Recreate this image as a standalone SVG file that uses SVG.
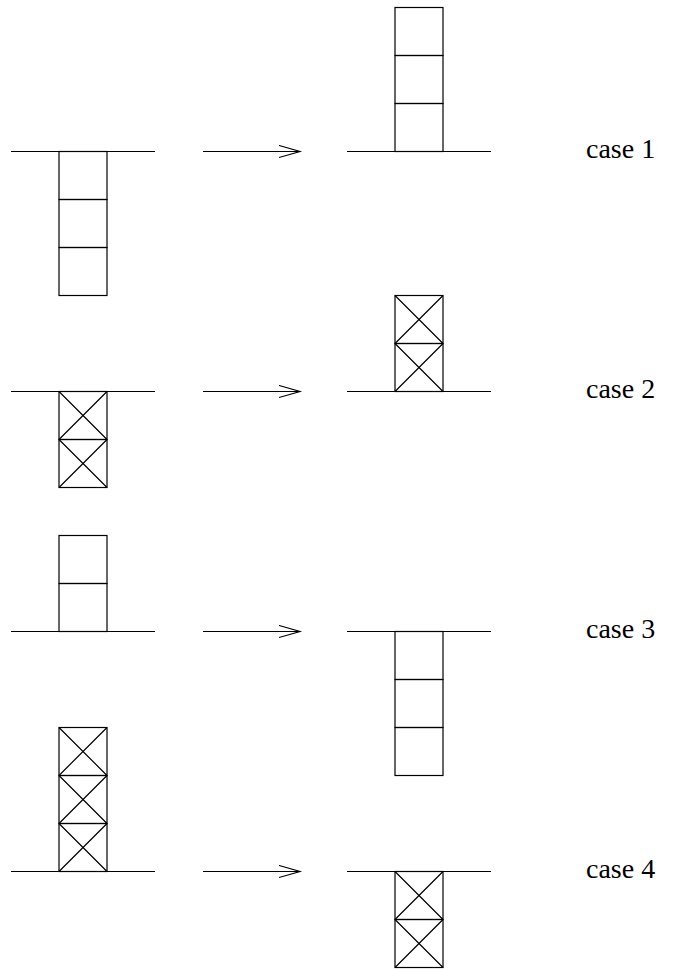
<svg xmlns="http://www.w3.org/2000/svg" width="674" height="969" viewBox="0 0 674 969">
<style>
.l{stroke:#000;stroke-width:1.2;fill:none}
.c{stroke:#000;stroke-width:1.2;fill:none}
.t{font-family:"Liberation Serif",serif;font-size:28px;fill:#000}
</style>
<defs>
<marker id="ah" markerWidth="24" markerHeight="14" refX="21" refY="7" orient="auto" markerUnits="userSpaceOnUse">
<path d="M0,1 L21,7 L0,13" fill="none" stroke="#000" stroke-width="1.2"/>
</marker>
<g id="cell"><rect x="0" y="0" width="48" height="48" class="c"/></g>
<g id="xcell"><rect x="0" y="0" width="48" height="48" class="c"/><path d="M0,0 L48,48 M48,0 L0,48" class="c"/></g>
</defs>
<rect width="674" height="969" fill="#fff"/>
<g id="case1-left">
<line x1="11" y1="151.5" x2="155" y2="151.5" class="l"/>
<use href="#cell" x="59" y="151.5"/><use href="#cell" x="59" y="199.5"/><use href="#cell" x="59" y="247.5"/>
</g>
<g id="case1-right">
<line x1="347" y1="151.5" x2="491" y2="151.5" class="l"/>
<use href="#cell" x="395" y="7.5"/><use href="#cell" x="395" y="55.5"/><use href="#cell" x="395" y="103.5"/>
</g>
<g id="case2-left">
<line x1="11" y1="391.5" x2="155" y2="391.5" class="l"/>
<use href="#xcell" x="59" y="391.5"/><use href="#xcell" x="59" y="439.5"/>
</g>
<g id="case2-right">
<line x1="347" y1="391.5" x2="491" y2="391.5" class="l"/>
<use href="#xcell" x="395" y="295.5"/><use href="#xcell" x="395" y="343.5"/>
</g>
<g id="case3-left">
<line x1="11" y1="631.5" x2="155" y2="631.5" class="l"/>
<use href="#cell" x="59" y="535.5"/><use href="#cell" x="59" y="583.5"/>
</g>
<g id="case3-right">
<line x1="347" y1="631.5" x2="491" y2="631.5" class="l"/>
<use href="#cell" x="395" y="631.5"/><use href="#cell" x="395" y="679.5"/><use href="#cell" x="395" y="727.5"/>
</g>
<g id="case4-left">
<line x1="11" y1="871.5" x2="155" y2="871.5" class="l"/>
<use href="#xcell" x="59" y="727.5"/><use href="#xcell" x="59" y="775.5"/><use href="#xcell" x="59" y="823.5"/>
</g>
<g id="case4-right">
<line x1="347" y1="871.5" x2="491" y2="871.5" class="l"/>
<use href="#xcell" x="395" y="871.5"/><use href="#xcell" x="395" y="919.5"/>
</g>
<g id="connectors">
<line x1="203" y1="151.5" x2="300" y2="151.5" class="l" marker-end="url(#ah)"/>
<line x1="203" y1="391.5" x2="300" y2="391.5" class="l" marker-end="url(#ah)"/>
<line x1="203" y1="631.5" x2="300" y2="631.5" class="l" marker-end="url(#ah)"/>
<line x1="203" y1="871.5" x2="300" y2="871.5" class="l" marker-end="url(#ah)"/>
</g>
<g id="labels">
<text x="586" y="158" class="t">case 1</text>
<text x="586" y="398" class="t">case 2</text>
<text x="586" y="638" class="t">case 3</text>
<text x="586" y="878" class="t">case 4</text>
</g>
</svg>
